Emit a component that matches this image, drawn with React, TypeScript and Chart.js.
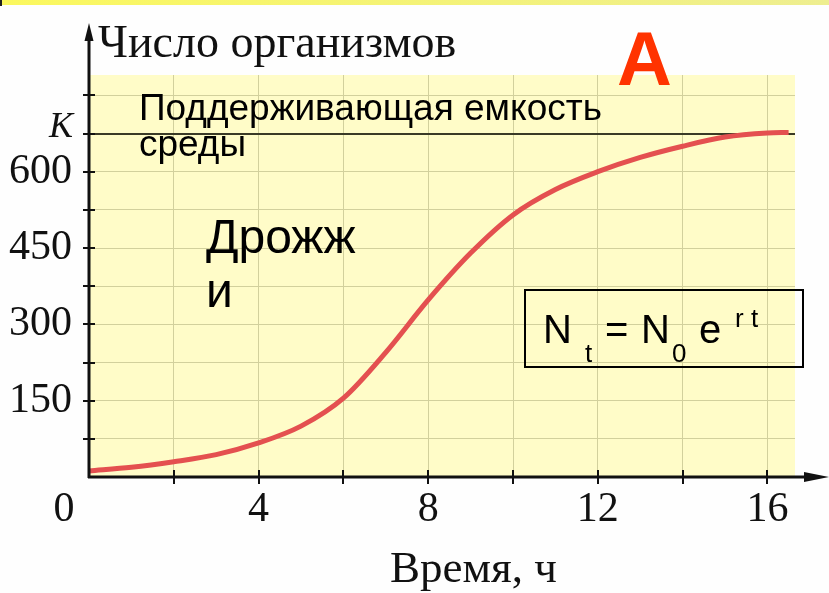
import { useEffect, useRef } from 'react';
import { Chart, registerables } from 'chart.js';

Chart.register(...registerables);

// ---- data ----
const hours = [0, 1, 2, 3, 4, 5, 6, 7, 8, 9, 10, 11, 12, 13, 14, 15, 16, 16.5];
const organisms = [12, 19, 30, 44, 67, 100, 155, 245, 348, 440, 515, 565, 600, 628, 650, 668, 676, 677];
const capacityK = 675;
const xTickLabels = [4, 8, 12, 16];
const yTickLabels = [150, 300, 450, 600];
const xStep = 2;
const yStep = 75;
const xMax = 16.65;
const yMax = 790;

const yTitle = 'Число организмов';
const xTitle = 'Время, ч';
const kLabel = 'K';
const zeroLabel = '0';
const capacityText = ['Поддерживающая емкость', 'среды'];
const speciesText = ['Дрожж', 'и'];
const panelLetter = 'A';

const SERIF = '"Liberation Serif", "Times New Roman", serif';
const SANS = '"Liberation Sans", Arial, sans-serif';
const TICK_SIZE = 42;
const X_TICK_PAD = 12;

const stepTicks = (max: number, step: number) => {
  const out: { value: number }[] = [];
  for (let v = 0; v <= max + 1e-9; v += step) out.push({ value: v });
  return out;
};

const decorPlugin = {
  id: 'decor',
  beforeDraw(chart: any) {
    const { ctx, chartArea: a, width } = chart;
    ctx.save();
    ctx.fillStyle = '#fefefe';
    ctx.fillRect(0, 0, chart.width, chart.height);
    // top strip
    const g = ctx.createLinearGradient(0, 0, width, 0);
    g.addColorStop(0, '#fbf85e');
    g.addColorStop(1, '#eeee90');
    ctx.fillStyle = g;
    ctx.fillRect(0, 0, width, 5);
    ctx.fillStyle = '#222';
    ctx.fillRect(0, 0, 2, 6);
    // plot background
    ctx.fillStyle = '#fffcc8';
    ctx.fillRect(a.left, a.top, a.right - a.left, a.bottom - a.top);
    ctx.restore();
  },
  afterDatasetsDraw(chart: any) {
    const { ctx } = chart;
    const xs = chart.scales.x;
    const ys = chart.scales.y;
    const x0 = xs.getPixelForValue(0);
    const y0 = ys.getPixelForValue(0);
    ctx.save();
    ctx.strokeStyle = '#111';
    ctx.fillStyle = '#111';
    // y axis with arrow
    ctx.lineWidth = 3;
    ctx.beginPath();
    ctx.moveTo(x0, y0 + 1);
    ctx.lineTo(x0, 36);
    ctx.stroke();
    ctx.beginPath();
    ctx.moveTo(x0, 23);
    ctx.lineTo(x0 - 4.5, 41);
    ctx.lineTo(x0 + 4.5, 41);
    ctx.closePath();
    ctx.fill();
    // x axis with arrow
    ctx.beginPath();
    ctx.moveTo(x0 - 1, y0);
    ctx.lineTo(812, y0);
    ctx.stroke();
    ctx.beginPath();
    ctx.moveTo(829, y0);
    ctx.lineTo(804, y0 - 5);
    ctx.lineTo(804, y0 + 5);
    ctx.closePath();
    ctx.fill();
    // tick marks
    ctx.lineWidth = 2;
    for (let v = yStep; v <= yMax; v += yStep) {
      const p = Math.round(ys.getPixelForValue(v));
      ctx.beginPath();
      ctx.moveTo(x0 - 6, p);
      ctx.lineTo(x0 + 6, p);
      ctx.stroke();
    }
    for (let v = xStep; v <= xMax; v += xStep) {
      const p = Math.round(xs.getPixelForValue(v));
      ctx.beginPath();
      ctx.moveTo(p, y0 - 7);
      ctx.lineTo(p, y0 + 7);
      ctx.stroke();
    }
    // K label
    ctx.font = `italic 36px ${SERIF}`;
    ctx.textAlign = 'right';
    ctx.textBaseline = 'alphabetic';
    ctx.fillText(kLabel, x0 - 16, ys.getPixelForValue(capacityK) + 3);
    // 0 label
    ctx.font = `${TICK_SIZE}px ${SERIF}`;
    ctx.textAlign = 'center';
    ctx.textBaseline = 'middle';
    ctx.fillText(zeroLabel, x0 - 25, xs.top + X_TICK_PAD + TICK_SIZE / 2);
    // axis titles
    ctx.textAlign = 'left';
    ctx.textBaseline = 'alphabetic';
    ctx.font = `46px ${SERIF}`;
    ctx.fillText(yTitle, x0 + 9, 57);
    ctx.font = `45px ${SERIF}`;
    ctx.fillText(xTitle, 390, 582);
    // annotations
    ctx.fillStyle = '#000';
    ctx.font = `37px ${SANS}`;
    ctx.fillText(capacityText[0], 139, 120);
    ctx.fillText(capacityText[1], 139, 156);
    ctx.font = `48px ${SANS}`;
    ctx.fillText(speciesText[0], 206, 253);
    ctx.fillText(speciesText[1], 206, 307);
    ctx.fillStyle = '#ff3300';
    ctx.font = `bold 76px ${SANS}`;
    ctx.fillText(panelLetter, 617, 85);
    // formula box
    ctx.strokeStyle = '#000';
    ctx.lineWidth = 2;
    ctx.strokeRect(525, 290, 278, 77);
    ctx.fillStyle = '#000';
    ctx.font = `40px ${SANS}`;
    ctx.fillText('N', 543, 343);
    ctx.fillText('=', 605, 343);
    ctx.fillText('N', 641, 343);
    ctx.fillText('e', 699, 343);
    ctx.font = `26px ${SANS}`;
    ctx.fillText('t', 585, 362);
    ctx.fillText('0', 672, 362);
    ctx.fillText('r t', 735, 327);
    ctx.restore();
  },
};

export default function App() {
  const ref = useRef<HTMLCanvasElement | null>(null);
  useEffect(() => {
    if (!ref.current) return;
    const chart = new Chart(ref.current, {
      type: 'line',
      data: {
        datasets: [
          {
            data: hours.map((h, i) => ({ x: h, y: organisms[i] })),
            borderColor: 'rgb(228, 80, 80)',
            borderWidth: 5,
            pointRadius: 0,
            cubicInterpolationMode: 'monotone',
            fill: false,
            clip: 6,
          } as any,
        ],
      },
      options: {
        animation: false,
        responsive: false,
        devicePixelRatio: 1,
        layout: { padding: { left: 0, right: 34, top: 75, bottom: 0 } },
        plugins: { legend: { display: false }, tooltip: { enabled: false }, title: { display: false } },
        events: [],
        scales: {
          x: {
            type: 'linear',
            min: 0,
            max: xMax,
            afterFit: (s: any) => {
              s.height = 116;
            },
            afterBuildTicks: (s: any) => {
              s.ticks = stepTicks(xMax, xStep);
            },
            ticks: {
              stepSize: xStep,
              autoSkip: false,
              maxRotation: 0,
              padding: X_TICK_PAD,
              color: '#111',
              font: { family: SERIF, size: TICK_SIZE, lineHeight: 1 },
              callback: (v: any) => (xTickLabels.includes(Number(v)) ? String(v) : ''),
            },
            grid: { color: '#d2d09c', lineWidth: 1, drawTicks: false },
            border: { display: false },
          },
          y: {
            type: 'linear',
            min: 0,
            max: yMax,
            afterFit: (s: any) => {
              s.width = 89;
            },
            afterBuildTicks: (s: any) => {
              s.ticks = stepTicks(yMax, yStep);
            },
            ticks: {
              stepSize: yStep,
              autoSkip: false,
              padding: 17,
              color: '#111',
              font: { family: SERIF, size: TICK_SIZE, lineHeight: 1 },
              callback: (v: any) => (yTickLabels.includes(Number(v)) ? String(v) : ''),
            },
            grid: {
              color: (c: any) => (c.tick && c.tick.value === capacityK ? '#3a3a26' : '#d2d09c'),
              lineWidth: (c: any) => (c.tick && c.tick.value === capacityK ? 2 : 1),
              drawTicks: false,
            },
            border: { display: false },
          },
        },
      },
      plugins: [decorPlugin],
    });
    return () => chart.destroy();
  }, []);
  return (
    <div style={{ position: 'fixed', left: 0, top: 0, width: 829, height: 593, background: '#fff' }}>
      <canvas ref={ref} width={829} height={593} style={{ display: 'block' }} />
    </div>
  );
}
